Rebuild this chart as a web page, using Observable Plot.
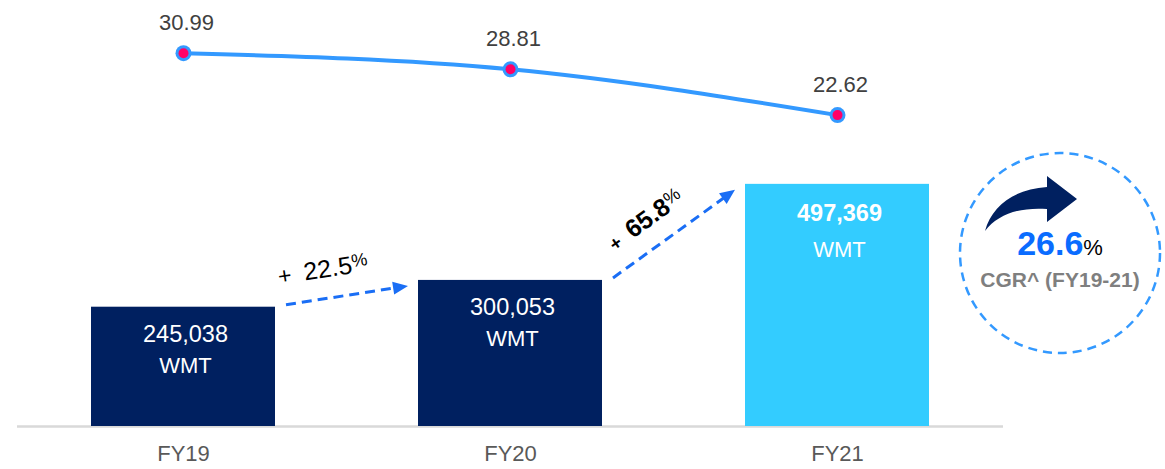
<!DOCTYPE html>
<html><head><meta charset="utf-8">
<script src="https://cdn.jsdelivr.net/npm/d3@7"></script>
<script src="https://cdn.jsdelivr.net/npm/@observablehq/plot@0.6"></script>
<style>
html,body{margin:0;padding:0;background:#fff;}
#chart{position:relative;width:1165px;height:469px;overflow:hidden;}
#chart > svg{position:absolute;left:0;top:0;}
</style></head><body><div id="chart"></div>
<script>
// ---- data ----
const categories = ["FY19", "FY20", "FY21"];
const volumes = [245038, 300053, 497369];
const volumeUnit = "WMT";
const ratios = [30.99, 28.81, 22.62];
const highlight = "FY21";
const growthFrom = ["FY19", "FY20"];
const growthTo = ["FY20", "FY21"];
const growthPct = ["22.5", "65.8"];
const cgrValue = "26.6";
const cgrLabel = "CGR^ (FY19-21)";

// ---- styles ----
const FONT = '"Liberation Sans", Arial, Helvetica, sans-serif';
const NAVY = "#002060", LIGHT = "#33ccff", LINE = "#3399ff", DOT = "#ff0066", ARROW = "#1a6ef5";
const fmt = d3.format(",");

const rows = categories.map((c, i) => ({cat: c, volume: volumes[i], ratio: ratios[i], hl: c === highlight}));

const common = {
  width: 1165, height: 469,
  marginLeft: 17, marginRight: 162, marginTop: 0, marginBottom: 43,
  style: {fontFamily: FONT, background: "transparent", overflow: "visible", color: "#595959"}
};
const xOpts = {type: "band", domain: categories, paddingInner: 0.437, paddingOuter: 0.226, axis: null};

function growthArrows(index, scales) {
  const x = scales.x, y = scales.y, bw = x.bandwidth();
  const g = d3.create("svg:g").attr("font-family", FONT);
  growthFrom.forEach((from, i) => {
    const to = growthTo[i];
    const bold = to === highlight;
    const x1 = x(from) + bw + 11, y1 = y(volumes[categories.indexOf(from)]) - 2;
    const x2 = x(to) - 10, y2 = y(volumes[categories.indexOf(to)]) + 6;
    const ang = Math.atan2(y2 - y1, x2 - x1), len = Math.hypot(x2 - x1, y2 - y1);
    const head = 15, hw = 6.5;
    const gi = g.append("g").attr("transform", `translate(${x1},${y1}) rotate(${ang * 180 / Math.PI})`);
    gi.append("line").attr("x1", 0).attr("y1", 0).attr("x2", len - head + 1).attr("y2", 0)
      .attr("stroke", ARROW).attr("stroke-width", 3).attr("stroke-dasharray", "10 6");
    gi.append("path").attr("d", `M${len},0L${len - head},${-hw}L${len - head},${hw}Z`).attr("fill", ARROW);
    const t = gi.append("text").attr("x", len / 2 - (bold ? 15 : 20)).attr("y", bold ? -20 : -21).attr("text-anchor", "middle")
      .attr("font-size", 25).attr("fill", "#000").attr("font-weight", bold ? "bold" : "normal");
    t.append("tspan").attr("font-size", bold ? 19 : 23).text("+  ");
    t.append("tspan").text(growthPct[i]);
    t.append("tspan").attr("font-size", 18).attr("font-weight", "normal").attr("dy", -6).text("%");
  });
  return g.node();
}

function cgrBadge() {
  const g = d3.create("svg:g").attr("transform", "translate(1060,253)").attr("font-family", FONT);
  g.append("circle").attr("r", 100).attr("fill", "none").attr("stroke", LINE)
    .attr("stroke-width", 2.5).attr("stroke-dasharray", "9 6");
  g.append("path").attr("d", "M-75,-22C-68,-48 -45,-64 -13,-66L-13,-77L17,-54L-13,-31L-13,-44C-40,-46 -62,-39 -75,-22Z")
    .attr("fill", NAVY);
  const t = g.append("text").attr("y", 2).attr("text-anchor", "middle");
  t.append("tspan").attr("font-size", 34).attr("font-weight", "bold").attr("fill", "#0a6cff").text(cgrValue);
  t.append("tspan").attr("font-size", 22).attr("fill", "#000").text("%");
  g.append("text").attr("y", 34).attr("text-anchor", "middle").attr("font-size", 21)
    .attr("font-weight", "bold").attr("fill", "#7f7f7f").text(cgrLabel);
  return g.node();
}

const bars = Plot.plot({
  ...common,
  x: xOpts,
  y: {domain: [0, 875000], axis: null},
  marks: [
    Plot.ruleY([0], {stroke: "#d9d9d9", strokeWidth: 2.5}),
    Plot.barY(rows.filter(d => !d.hl), {x: "cat", y: "volume", fill: NAVY}),
    Plot.barY(rows.filter(d => d.hl), {x: "cat", y: "volume", fill: LIGHT}),
    Plot.text(rows.filter(d => !d.hl), {x: "cat", y: "volume", text: d => fmt(d.volume), dy: 27, dx: 2, fill: "white", fontSize: 23.5}),
    Plot.text(rows.filter(d => d.hl), {x: "cat", y: "volume", text: d => fmt(d.volume), dy: 29, dx: 2, fill: "white", fontSize: 23.5, fontWeight: "bold"}),
    Plot.text(rows.filter(d => !d.hl), {x: "cat", y: "volume", text: () => volumeUnit, dy: 59, dx: 2, fill: "white", fontSize: 22}),
    Plot.text(rows.filter(d => d.hl), {x: "cat", y: "volume", text: () => volumeUnit, dy: 66, dx: 2, fill: "white", fontSize: 22}),
    Plot.axisX({tickSize: 0, tickPadding: 19, fontSize: 22, fill: "#595959", label: null}),
    growthArrows
  ]
});

const line = Plot.plot({
  ...common,
  x: xOpts,
  y: {domain: [20, 35], range: [134, 23], axis: null},
  marks: [
    Plot.line(rows, {x: "cat", y: "ratio", stroke: LINE, strokeWidth: 4, curve: "monotone-x"}),
    Plot.dot(rows, {x: "cat", y: "ratio", r: 8, fill: LINE}),
    Plot.dot(rows, {x: "cat", y: "ratio", r: 5, fill: DOT}),
    Plot.text(rows, {x: "cat", y: "ratio", text: d => d.ratio.toFixed(2), dy: -30, dx: 3, fontSize: 22, fill: "#404040"}),
    cgrBadge
  ]
});

const root = document.getElementById("chart");
root.appendChild(bars);
root.appendChild(line);
</script>
</body></html>
